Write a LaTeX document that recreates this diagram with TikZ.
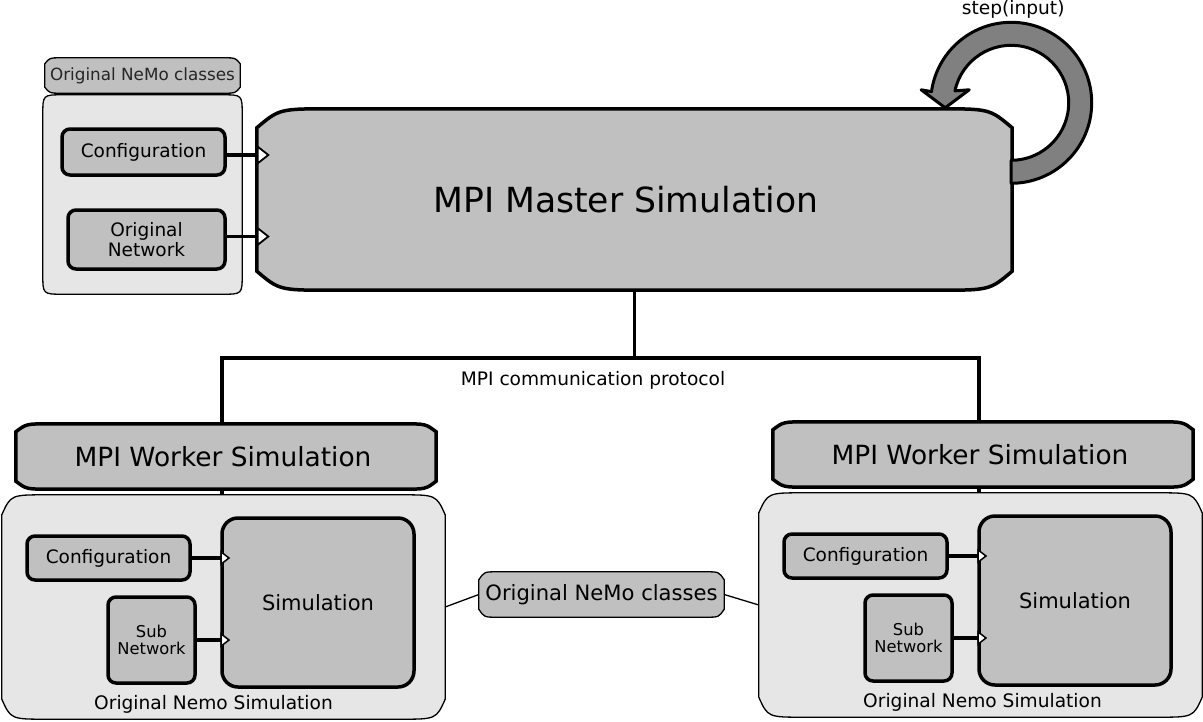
\documentclass[tikz,border=0pt]{standalone}
\usepackage{fontspec}
\setmainfont{DejaVu Sans}
\usetikzlibrary{arrows.meta,positioning,calc,backgrounds}
\definecolor{silver}{HTML}{C0C0C0}
\definecolor{paleg}{HTML}{E6E6E6}
\definecolor{loopg}{HTML}{808080}

\begin{document}
\begin{tikzpicture}[x=1pt,y=-1pt]
\tikzset{
  banner/.style   = {shape=rectangle, inner sep=0pt, align=center},
  classbox/.style = {shape=rectangle, rounded corners=8pt,
                     draw, line width=3.5pt, fill=silver,
                     inner sep=0pt, align=center,
                     font=\fontsize{18.5}{20}\selectfont},
  simbox/.style   = {classbox, rounded corners=16pt,
                     font=\fontsize{21}{24}\selectfont},
  caption/.style  = {inner sep=0pt, font=\fontsize{18.6}{20}\selectfont},
  thickrim/.style = {draw, line width=3.5pt, fill=silver},
  thinrim/.style  = {draw, line width=1.3pt},
  wire/.style     = {line width=3.5pt},
  feed/.style     = {line width=3.5pt,
                     -{Triangle[open, fill=white, length=10pt, width=15pt, line width=1.5pt]}},
  bigfeed/.style  = {feed,
                     -{Triangle[open, fill=white, length=13pt, width=20pt, line width=1.8pt]}}
}
% curved box round a node: #1 = control point, #3 = how far in, #4 = how far down
\newcommand{\barrel}[4]{
  ([yshift=-#4]#2.north west) .. controls ([xshift=#1*#3]#2.north west) .. ([xshift=#3]#2.north west)
  -- ([xshift=-#3]#2.north east) .. controls ([xshift=-#1*#3]#2.north east) .. ([yshift=-#4]#2.north east)
  -- ([yshift=#4]#2.south east) .. controls ([xshift=-#1*#3]#2.south east) .. ([xshift=-#3]#2.south east)
  -- ([xshift=#3]#2.south west) .. controls ([xshift=#1*#3]#2.south west) .. ([yshift=#4]#2.south west)
  -- cycle}

\useasboundingbox (0,0) rectangle (1203,721);

% original classes, top left
\node[banner, minimum width=195, minimum height=35, text=black!85,
      font=\fontsize{16.8}{18}\selectfont] (tab) at (142.5,75.5) {Original NeMo classes};
\node[banner, minimum width=199, minimum height=199] (orig) at (142.5,194.5) {};
\node[classbox, minimum width=163, minimum height=46] (conf) at (143.5,152) {Configuration};
\node[classbox, minimum width=157, minimum height=59] (net) at (146.5,239.5) {Original\\Network};

\node[banner, minimum width=755, minimum height=181,
      font=\fontsize{34.6}{40}\selectfont] (master) at (634.5,199.5)
      {MPI Master Simulation\hspace*{17pt}};

\draw[bigfeed] ([yshift=-3]conf.east) -- ([xshift=13,yshift=-3]conf.east -| master.west);
\draw[bigfeed] ([yshift=3]net.east) -- ([xshift=13,yshift=3]net.east -| master.west);

% step loop
\coordinate (loopc) at ([xshift=-1,yshift=6]master.north east);
\filldraw[fill=loopg, line width=3pt, line join=round]
  ($(loopc)+(90:80.5)$) arc[start angle=90, end angle=-172, radius=80.5]
  -- ($(loopc)+(-90,-13)$) -- ($(loopc)+(-66,5)$) -- ($(loopc)+(-42,-13)$)
  -- ($(loopc)+(-168:57.5)$) arc[start angle=-168, end angle=90, radius=57.5] -- cycle;
\node[caption, anchor=base] (step) at ($(loopc)+(2,-88)$) {step(input)};

% workers
\foreach \s/\dx/\dy/\lx in {l/0/0/-10, r/757/-2/2} {
  \begin{scope}[shift={(\dx,\dy)}]
    \node[banner, minimum width=420, minimum height=65,
          font=\fontsize{26.4}{30}\selectfont] (wk-\s) at (226,456.5)
          {MPI Worker Simulation\hspace*{6pt}};
    \node[banner, minimum width=443, minimum height=224] (nemo-\s) at (223.5,607) {};
    \node[classbox, minimum width=163, minimum height=44] (cfg-\s) at (108.5,558) {Configuration};
    \node[classbox, minimum width=87, minimum height=86,
          font=\fontsize{16.3}{17}\selectfont] (sub-\s) at (151.5,640) {Sub\\Network};
    \node[simbox, minimum width=192, minimum height=169] (sim-\s) at (318,602.5) {Simulation};
    \node[caption, above=6pt of nemo-\s.south, xshift=\lx] (lbl-\s) {Original Nemo Simulation};
  \end{scope}
  \draw[feed] (cfg-\s.east) -- ([xshift=10]cfg-\s.east -| sim-\s.west);
  \draw[feed] (sub-\s.east) -- ([xshift=10]sub-\s.east -| sim-\s.west);
  \draw[wire] ([xshift=-4]wk-\s.south) -- ([xshift=-4]wk-\s.south |- nemo-\s.north);
}

% communication bus
\draw[wire] (master.south) -- ++(0,68) coordinate (bus);
\draw[wire] ([xshift=-4]wk-l.north) |- (bus) -| ([xshift=-4]wk-r.north);
\node[caption] (proto) at (593,380) {MPI communication protocol};

\node[banner, minimum width=245, minimum height=45,
      font=\fontsize{21.1}{24}\selectfont] (classes) at (601.5,594.5) {Original NeMo classes};
\draw[thinrim] (nemo-l.east) -- (classes.west);
\draw[thinrim] (classes.east) -- (nemo-r.west);

\begin{pgfonlayer}{background}
  \draw[thinrim, fill=silver] \barrel{0.3}{tab}{16pt}{6pt};
  \draw[thinrim, fill=paleg] \barrel{0}{orig}{20pt}{20pt};
  \draw[thickrim] \barrel{0.3}{master}{75pt}{19pt};
  \draw[thinrim, fill=silver] \barrel{0.3}{classes}{18pt}{8pt};
  \foreach \s in {l,r} {
    \draw[thickrim] \barrel{0.3}{wk-\s}{35pt}{8pt};
    \draw[thinrim, fill=paleg] \barrel{0.2}{nemo-\s}{45pt}{20pt};
  }
\end{pgfonlayer}
\end{tikzpicture}
\end{document}
